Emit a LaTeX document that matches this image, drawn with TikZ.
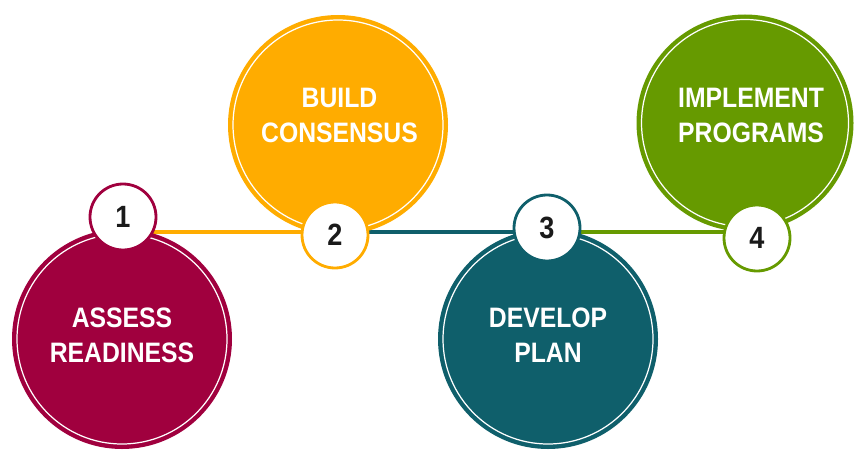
\documentclass[tikz,border=0pt]{standalone}
\usepackage{fontspec}
\setmainfont{Liberation Sans}[FakeStretch=0.88]
\usepackage{tikz}
\usetikzlibrary{calc}
\usetikzlibrary{positioning}
\usetikzlibrary{backgrounds}

\definecolor{assessred}{HTML}{A0003E}
\definecolor{buildorange}{HTML}{FFAC00}
\definecolor{developteal}{HTML}{0F5F6B}
\definecolor{implementgreen}{HTML}{669A00}
\definecolor{numblack}{HTML}{1A1A1A}

\begin{document}
\begin{tikzpicture}[
    bigdisc/.style={circle,minimum size=4.4cm,inner sep=0pt,fill=#1},
    numdisc/.style={circle,minimum size=1.32cm,inner sep=0pt,fill=white,
                    draw=#1,line width=1.6pt,text=numblack,
                    font=\bfseries\fontsize{17.5}{20}\selectfont},
    steptext/.style={align=center,text=white,inner sep=0pt,
                    font=\bfseries\fontsize{16}{19.9}\selectfont},
    link/.style={#1,line width=2.8pt}]
          \useasboundingbox (0,0) rectangle (17.1,9);
          \coordinate (lvl) at (0,4.36);

          % the four big discs
          \node[bigdisc=assessred] (b1) at (2.44,2.22) {};
          \node[bigdisc=buildorange] (b2) at (6.76,6.5) {};
          \node[bigdisc=developteal] (b3) at (10.96,2.22) {};
          \node[bigdisc=implementgreen,minimum size=4.34cm] (b4) at (14.9,6.54) {};
          \foreach \b in {b1,b2,b3}
            \draw[white,line width=0.7pt] (\b) circle (2.1);
          \draw[white,line width=0.7pt] (b4) circle (2.07);

          \node[steptext] (t1) at ([yshift=0.07cm]b1.center) {ASSESS\\READINESS};
          \node[steptext] (t2) at ([xshift=0.03cm,yshift=0.2cm]b2.center) {BUILD\\CONSENSUS};
          \node[steptext] (t3) at ([yshift=0.07cm]b3.center) {DEVELOP\\PLAN};
          \node[steptext] (t4) at ([xshift=0.12cm,yshift=0.16cm]b4.center) {IMPLEMENT\\PROGRAMS};

          % numbered markers
          \node[numdisc=assessred] (s1) at (2.46,4.66) {1};
          \node[numdisc=buildorange] (s2) at (6.70,4.30) {2};
          \node[numdisc=developteal] (s3) at (10.94,4.44) {3};
          \node[numdisc=implementgreen] (s4) at (15.14,4.24) {4};

          \begin{pgfonlayer}{background}
          \draw[link=buildorange] (s1 |- lvl) -- (s2 |- lvl);
          \draw[link=developteal] (s2 |- lvl) -- (s3 |- lvl);
          \draw[link=implementgreen] (s3 |- lvl) -- (s4 |- lvl);
          \end{pgfonlayer}

        \end{tikzpicture}
\end{document}
